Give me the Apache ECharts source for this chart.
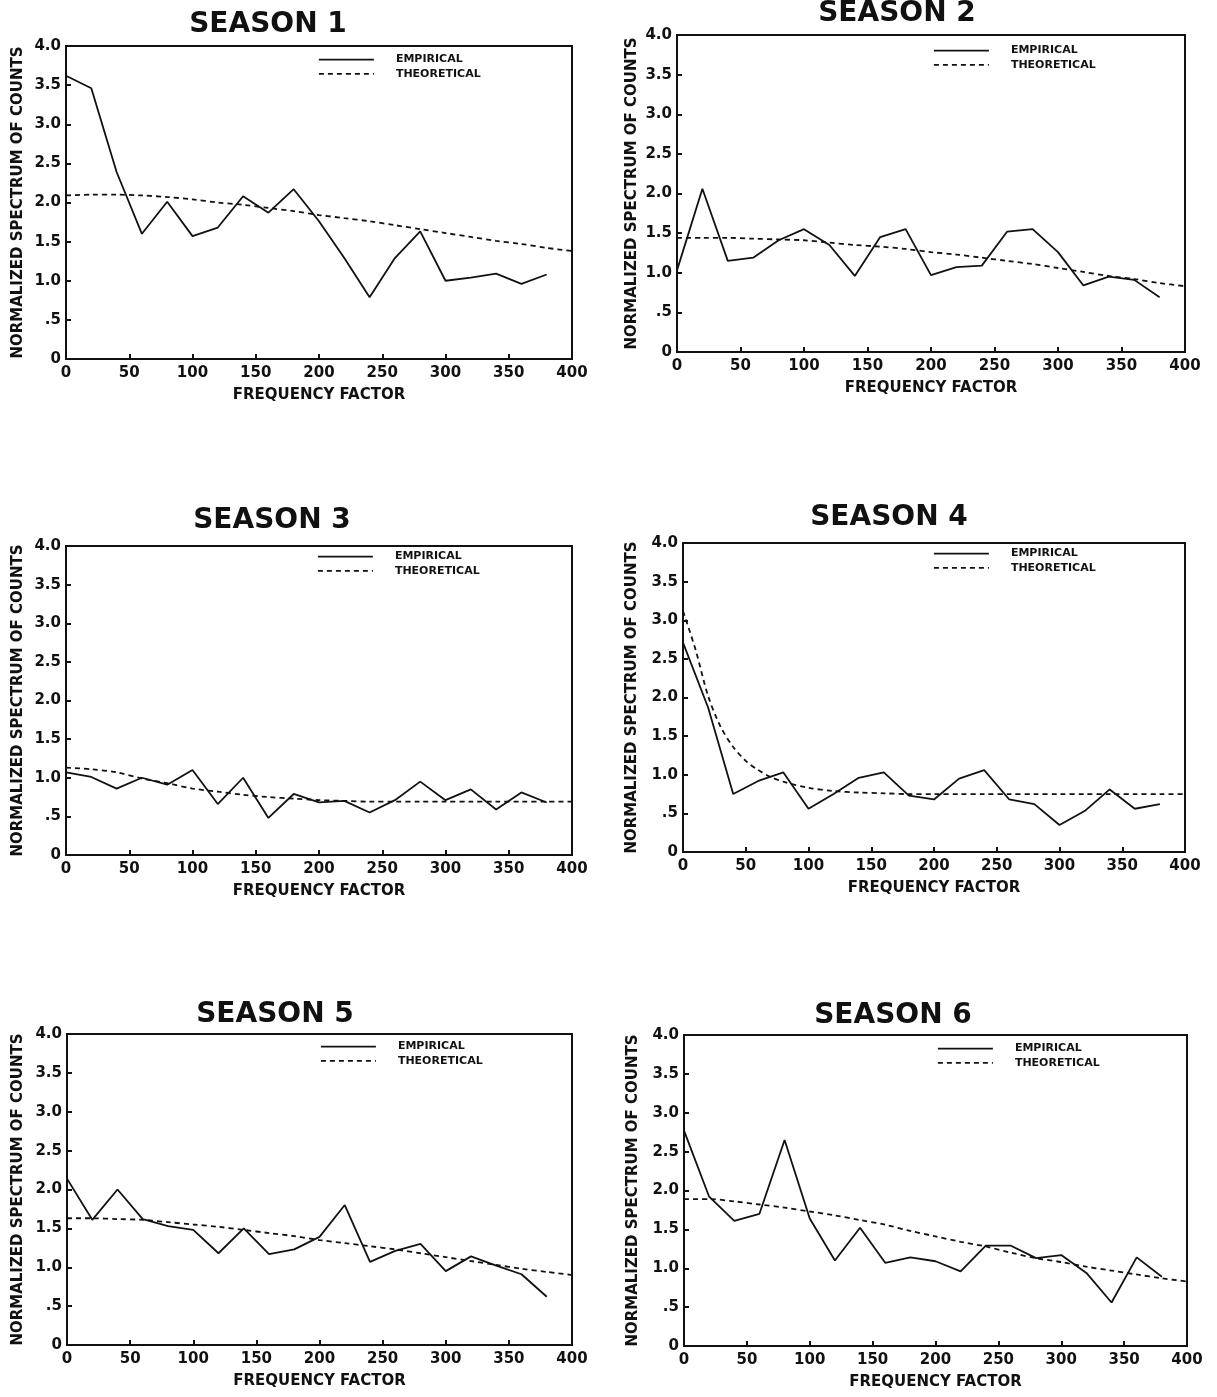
<!DOCTYPE html>
<html>
<head>
<meta charset="utf-8">
<script src="https://cdn.jsdelivr.net/npm/echarts@6/dist/echarts.min.js"></script>
<style>
  html, body { margin: 0; padding: 0; background: #fff; }
  #chart { width: 1217px; height: 1397px; }
</style>
</head>
<body>
<div id="chart"></div>
<script>
// Frequency factors at which the empirical spectrum is sampled
const freq = [0, 20, 40, 60, 80, 100, 120, 140, 160, 180, 200, 220, 240, 260, 280, 300, 320, 340, 360, 380];
// Frequency factors for the theoretical curves
const theoFreq = [0, 20, 40, 60, 80, 100, 120, 140, 160, 180, 200, 220, 240, 260, 280, 300, 320, 340, 360, 380, 400];
const theoFreqS4 = [0, 10, 20, 30, 40, 50, 60, 70, 80, 100, 120, 140, 160, 180, 200, 220, 240, 260, 280, 300, 320, 340, 360, 380, 400];

const xTicks = [0, 50, 100, 150, 200, 250, 300, 350, 400];
const yTickLabels = ['0', '.5', '1.0', '1.5', '2.0', '2.5', '3.0', '3.5', '4.0'];

const empirical1 = [3.62, 3.46, 2.39, 1.60, 2.01, 1.57, 1.68, 2.08, 1.87, 2.17, 1.76, 1.29, 0.79, 1.29, 1.63, 1.00, 1.04, 1.09, 0.96, 1.08];
const theoretical1 = [2.09, 2.10, 2.10, 2.09, 2.07, 2.04, 2.00, 1.97, 1.93, 1.89, 1.84, 1.80, 1.76, 1.71, 1.66, 1.61, 1.56, 1.51, 1.47, 1.42, 1.38];

const empirical2 = [1.03, 2.06, 1.15, 1.19, 1.41, 1.55, 1.35, 0.96, 1.45, 1.55, 0.97, 1.07, 1.09, 1.52, 1.55, 1.26, 0.84, 0.95, 0.91, 0.69];
const theoretical2 = [1.44, 1.44, 1.44, 1.43, 1.42, 1.41, 1.38, 1.35, 1.33, 1.30, 1.26, 1.23, 1.19, 1.15, 1.11, 1.06, 1.01, 0.96, 0.92, 0.87, 0.83];

const empirical3 = [1.07, 1.01, 0.86, 1.00, 0.91, 1.10, 0.66, 1.00, 0.48, 0.79, 0.68, 0.70, 0.55, 0.71, 0.95, 0.71, 0.85, 0.59, 0.81, 0.68];
const theoretical3 = [1.13, 1.11, 1.07, 0.99, 0.93, 0.86, 0.82, 0.78, 0.75, 0.73, 0.71, 0.70, 0.69, 0.69, 0.69, 0.69, 0.69, 0.69, 0.69, 0.69, 0.69];

const empirical4 = [2.71, 1.87, 0.75, 0.92, 1.03, 0.56, 0.75, 0.96, 1.03, 0.73, 0.68, 0.95, 1.06, 0.68, 0.62, 0.35, 0.53, 0.81, 0.56, 0.62];
const theoretical4 = [3.12, 2.62, 2.02, 1.62, 1.36, 1.18, 1.06, 0.97, 0.91, 0.83, 0.79, 0.77, 0.76, 0.75, 0.75, 0.75, 0.75, 0.75, 0.75, 0.75, 0.75, 0.75, 0.75, 0.75, 0.75];

const empirical5 = [2.14, 1.61, 2.00, 1.62, 1.53, 1.48, 1.18, 1.50, 1.17, 1.23, 1.39, 1.80, 1.07, 1.21, 1.30, 0.95, 1.14, 1.02, 0.91, 0.62];
const theoretical5 = [1.63, 1.63, 1.62, 1.61, 1.58, 1.55, 1.52, 1.48, 1.44, 1.40, 1.35, 1.31, 1.27, 1.23, 1.18, 1.13, 1.08, 1.03, 0.98, 0.94, 0.90];

const empirical6 = [2.77, 1.92, 1.61, 1.70, 2.65, 1.64, 1.10, 1.52, 1.07, 1.14, 1.09, 0.96, 1.29, 1.29, 1.13, 1.17, 0.94, 0.56, 1.14, 0.89];
const theoretical6 = [1.89, 1.89, 1.86, 1.82, 1.78, 1.73, 1.68, 1.62, 1.56, 1.48, 1.41, 1.34, 1.28, 1.20, 1.13, 1.08, 1.02, 0.97, 0.92, 0.87, 0.83];

const panels = [
  { title: 'SEASON 1', emp: empirical1, theo: theoretical1, theoX: theoFreq },
  { title: 'SEASON 2', emp: empirical2, theo: theoretical2, theoX: theoFreq },
  { title: 'SEASON 3', emp: empirical3, theo: theoretical3, theoX: theoFreq },
  { title: 'SEASON 4', emp: empirical4, theo: theoretical4, theoX: theoFreqS4 },
  { title: 'SEASON 5', emp: empirical5, theo: theoretical5, theoX: theoFreq },
  { title: 'SEASON 6', emp: empirical6, theo: theoretical6, theoX: theoFreq }
];

// Placement of each small plot on the page
const layout = [
  { grid: { left: 66,  top: 46,   width: 506, height: 313 }, tx: 268, ty: 25,   lx: 318, ly: 54,   yGap: 40 },
  { grid: { left: 677, top: 35,   width: 508, height: 317 }, tx: 897, ty: 14,   lx: 933, ly: 45,   yGap: 37 },
  { grid: { left: 66,  top: 546,  width: 506, height: 309 }, tx: 272, ty: 521,  lx: 317, ly: 551,  yGap: 40 },
  { grid: { left: 683, top: 543,  width: 502, height: 309 }, tx: 889, ty: 518,  lx: 933, ly: 548,  yGap: 43 },
  { grid: { left: 67,  top: 1034, width: 505, height: 311 }, tx: 275, ty: 1015, lx: 320, ly: 1041, yGap: 41 },
  { grid: { left: 684, top: 1035, width: 503, height: 311 }, tx: 893, ty: 1016, lx: 937, ly: 1043, yGap: 43 }
];

const FONT = '"DejaVu Sans", "Liberation Sans", sans-serif';
const INK = '#111';

const grids = [], xAxes = [], yAxes = [], series = [], legends = [], graphics = [];

panels.forEach((p, i) => {
  const L = layout[i];
  grids.push(Object.assign({ show: true, borderColor: INK, borderWidth: 2, backgroundColor: '#fff' }, L.grid));

  xAxes.push({
    type: 'value', gridIndex: i, min: xTicks[0], max: xTicks[xTicks.length - 1], interval: xTicks[1] - xTicks[0],
    name: 'FREQUENCY FACTOR', nameLocation: 'middle', nameGap: 29,
    nameTextStyle: { color: INK, fontFamily: FONT, fontSize: 15, fontWeight: 'bold' },
    axisLine: { show: true, lineStyle: { color: INK, width: 2 } },
    axisTick: { show: true, inside: true, length: 5, lineStyle: { color: INK, width: 2 } },
    axisLabel: { color: INK, fontFamily: FONT, fontSize: 15, fontWeight: 'bold', margin: 7, showMinLabel: true, showMaxLabel: true },
    splitLine: { show: false }
  });

  yAxes.push({
    type: 'value', gridIndex: i, min: 0, max: 4, interval: 0.5,
    name: 'NORMALIZED SPECTRUM OF COUNTS', nameLocation: 'middle', nameGap: L.yGap, nameRotate: 90,
    nameTextStyle: { color: INK, fontFamily: FONT, fontSize: 15, fontWeight: 'bold' },
    axisLine: { show: true, lineStyle: { color: INK, width: 2 } },
    axisTick: { show: true, inside: true, length: 5, lineStyle: { color: INK, width: 2 } },
    axisLabel: {
      color: INK, fontFamily: FONT, fontSize: 15, fontWeight: 'bold', margin: 5,
      formatter: v => yTickLabels[Math.round(v * 2)]
    },
    splitLine: { show: false }
  });

  series.push({
    name: 'EMPIRICAL', type: 'line', xAxisIndex: i, yAxisIndex: i,
    data: freq.map((f, j) => [f, p.emp[j]]),
    symbol: 'none', lineStyle: { color: INK, width: 1.8 }, itemStyle: { color: INK }, z: 3
  });
  series.push({
    name: 'THEORETICAL', type: 'line', xAxisIndex: i, yAxisIndex: i,
    data: p.theoX.map((f, j) => [f, p.theo[j]]),
    symbol: 'none', smooth: 0.3,
    lineStyle: { color: INK, width: 1.8, type: [5, 4] }, itemStyle: { color: INK }, z: 2
  });

  legends.push({
    data: ['EMPIRICAL', 'THEORETICAL'], orient: 'vertical', left: L.lx, top: L.ly,
    itemWidth: 55, itemHeight: 14, itemGap: 3, padding: 0, selectedMode: false,
    itemStyle: { opacity: 0 },
    lineStyle: { width: 1.8 },
    formatter: n => '{t|' + n + '}',
    textStyle: { rich: { t: { padding: [0, 0, 0, 17], fontFamily: FONT, fontSize: 11, fontWeight: 'bold', color: INK } } }
  });

  graphics.push({
    type: 'text', x: L.tx, y: L.ty,
    style: { text: p.title, fill: INK, font: 'bold 28px ' + FONT, align: 'center', verticalAlign: 'middle' }
  });
});

const chart = echarts.init(document.getElementById('chart'), null, { renderer: 'canvas' });
chart.setOption({
  animation: false,
  backgroundColor: '#fff',
  grid: grids,
  xAxis: xAxes,
  yAxis: yAxes,
  legend: legends,
  series: series,
  graphic: graphics
});
</script>
</body>
</html>
